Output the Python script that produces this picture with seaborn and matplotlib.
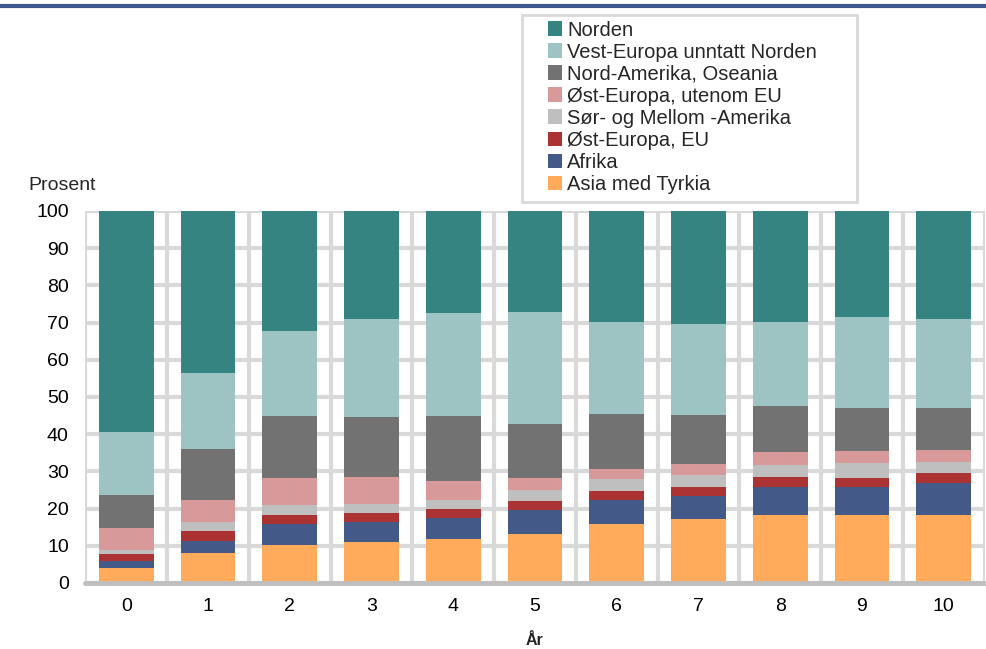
import numpy as np
import pandas as pd
import matplotlib
matplotlib.use("Agg")
import matplotlib.pyplot as plt
from matplotlib.lines import Line2D
from matplotlib.patches import Rectangle
import seaborn as sns

aar = list(range(11))
asia = [3.9, 8.0, 10.1, 10.9, 11.8, 13.2, 15.9, 17.1, 18.3, 18.3, 18.3]
afrika = [1.9, 3.4, 5.7, 5.6, 5.7, 6.4, 6.4, 6.4, 7.6, 7.4, 8.5]
ost_eu = [2.0, 2.6, 2.6, 2.4, 2.4, 2.4, 2.4, 2.2, 2.5, 2.5, 2.7]
sor_mellom = [1.2, 2.5, 2.6, 2.3, 2.4, 3.0, 3.2, 3.3, 3.3, 4.0, 3.0]
ost_utenom = [5.7, 5.8, 7.2, 7.4, 5.2, 3.3, 2.7, 3.0, 3.5, 3.3, 3.2]
nord_amerika = [8.9, 13.6, 16.7, 16.1, 17.4, 14.4, 14.8, 13.2, 12.5, 11.6, 11.4]
vest_europa = [17.0, 20.6, 22.8, 26.3, 27.8, 30.2, 24.8, 24.4, 22.4, 24.5, 23.9]
norden = [59.5, 43.5, 32.3, 29.0, 27.3, 27.1, 29.8, 30.4, 29.9, 28.4, 29.0]

# bunn -> topp
serier = [
    ("Asia med Tyrkia", asia, "#FFAB5B"),
    ("Afrika", afrika, "#435A88"),
    ("Øst-Europa, EU", ost_eu, "#AB3333"),
    ("Sør- og Mellom -Amerika", sor_mellom, "#BFBFBF"),
    ("Øst-Europa, utenom EU", ost_utenom, "#D79999"),
    ("Nord-Amerika, Oseania", nord_amerika, "#727272"),
    ("Vest-Europa unntatt Norden", vest_europa, "#9DC3C2"),
    ("Norden", norden, "#358482"),
]

df = pd.DataFrame({"aar": aar})
kum = np.zeros(len(aar))
for navn, verdier, farge in serier:
    kum = kum + np.array(verdier)
    df[navn] = kum

sns.set_style("white")
plt.rcParams["font.family"] = ["Liberation Sans", "DejaVu Sans"]

fig = plt.figure(figsize=(9.86, 6.49), dpi=100)
ax = fig.add_axes([0.0867, 0.1017, 0.9118, 0.5733])

# tegn kumulative søyler ovenfra og ned, slik at de ligger oppå hverandre
for navn, verdier, farge in reversed(serier):
    sns.barplot(data=df, x="aar", y=navn, color=farge, saturation=1,
                width=0.67, linewidth=0, errorbar=None, label=navn, ax=ax)

ax.set_ylim(0, 100)
ax.set_xlim(-0.5, 10.5)
ax.set_yticks(range(0, 101, 10))
ax.set_xticks(range(11), [str(a) for a in aar])
ax.set_xticks(np.arange(-0.5, 11, 1), minor=True)
ax.set_axisbelow(True)
ax.grid(axis="y", which="major", color="#D9D9D9", linewidth=3)
ax.grid(axis="x", which="minor", color="#D9D9D9", linewidth=3)
ax.grid(axis="x", which="major", visible=False)
for s in ax.spines.values():
    s.set_visible(False)
ax.axhline(0, color="#BFBFBF", linewidth=3.5, zorder=3, clip_on=False)
ax.tick_params(axis="both", which="both", length=0, labelsize=14, colors="black")
ax.tick_params(axis="y", pad=12)
ax.tick_params(axis="x", pad=11)
ax.set_ylabel("")
ax.set_xlabel("År", fontsize=11.5, fontweight="bold", labelpad=13)

fig.text(28 / 986, 1 - 185 / 649, "Prosent", fontsize=14, va="center", ha="left")

# legenderamme
fig.add_artist(Rectangle((522 / 986, 1 - 202 / 649), 335 / 986, 187 / 649,
                         transform=fig.transFigure, facecolor="white",
                         edgecolor="#D9D9D9", linewidth=2))

handles, labels = ax.get_legend_handles_labels()
leg = fig.legend(handles, labels, loc="upper left",
                 bbox_to_anchor=(548 / 986, 1 - 20.5 / 649),
                 fontsize=14.5, frameon=False,
                 handlelength=0.7, handleheight=0.7, handletextpad=0.25,
                 labelspacing=0.15, borderpad=0, borderaxespad=0)
if ax.get_legend():
    ax.get_legend().remove()

fig.add_artist(Line2D([0, 1], [1 - 5.5 / 649] * 2, transform=fig.transFigure,
                      color="#3F5A8A", linewidth=3))

fig.savefig("out.png", dpi=100)
